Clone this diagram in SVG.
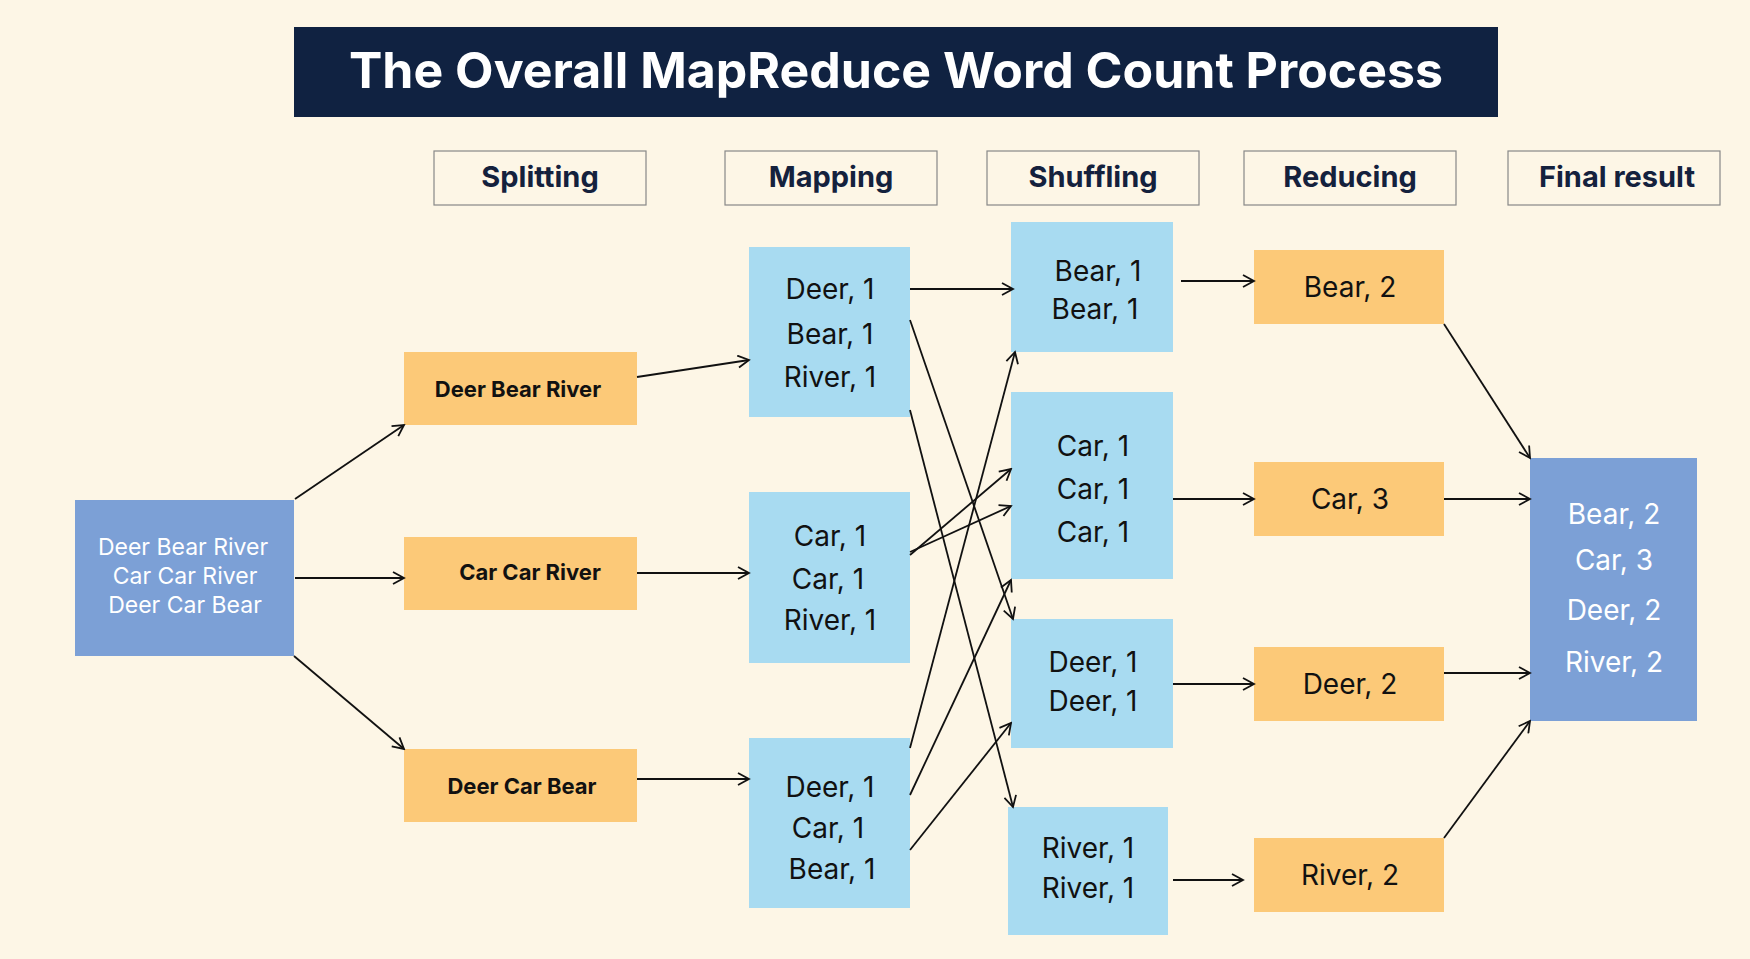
<svg xmlns="http://www.w3.org/2000/svg" width="1750" height="959" viewBox="0 0 1750 959">
<style>
text{font-family:Inter,"Open Sans",sans-serif;text-anchor:middle}
.hd{fill:none;stroke:#888;stroke-width:1.2}
.ht{font-size:29px;font-weight:700;fill:#14213d}
.in{fill:#7ca0d6}
.sp{fill:#fcc978}
.mp{fill:#a8dbf1}
.st{font-size:22px;font-weight:700;fill:#111}
.mt{font-size:28px;fill:#111}
.wt{font-size:23px;fill:#fff}
.wt2{font-size:28px;fill:#fff}
#conn line{stroke:#111;stroke-width:1.8;marker-end:url(#ah)}
</style>
<defs><marker id="ah" markerWidth="14" markerHeight="14" refX="12" refY="7" orient="auto" markerUnits="userSpaceOnUse"><path d="M1,1 L12,7 L1,13" fill="none" stroke="#111" stroke-width="1.8"/></marker></defs>
<rect width="1750" height="959" fill="#fdf6e6"/>
<g id="title"><rect x="294" y="27" width="1204" height="90" fill="#102241"/><text x="896" y="88" font-size="50" font-weight="700" fill="#fff">The Overall MapReduce Word Count Process</text></g>
<g id="h1"><rect class="hd" x="434" y="151" width="212" height="54"/><text class="ht" x="540" y="187">Splitting</text></g>
<g id="h2"><rect class="hd" x="725" y="151" width="212" height="54"/><text class="ht" x="831" y="187">Mapping</text></g>
<g id="h3"><rect class="hd" x="987" y="151" width="212" height="54"/><text class="ht" x="1093" y="187">Shuffling</text></g>
<g id="h4"><rect class="hd" x="1244" y="151" width="212" height="54"/><text class="ht" x="1350" y="187">Reducing</text></g>
<g id="h5"><rect class="hd" x="1508" y="151" width="212" height="54"/><text class="ht" x="1617" y="187">Final result</text></g>
<g id="input"><rect class="in" x="75" y="500" width="219" height="156"/><text class="wt" x="183" y="555">Deer Bear River</text><text class="wt" x="185" y="584">Car Car River</text><text class="wt" x="185" y="613">Deer Car Bear</text></g>
<g id="s1"><rect class="sp" x="404" y="352" width="233" height="73"/><text class="st" x="518" y="397">Deer Bear River</text></g>
<g id="s2"><rect class="sp" x="404" y="537" width="233" height="73"/><text class="st" x="530" y="580">Car Car River</text></g>
<g id="s3"><rect class="sp" x="404" y="749" width="233" height="73"/><text class="st" x="522" y="794">Deer Car Bear</text></g>
<g id="m1"><rect class="mp" x="749" y="247" width="161" height="170"/><text class="mt" x="830" y="299">Deer, 1</text><text class="mt" x="830" y="344">Bear, 1</text><text class="mt" x="830" y="387">River, 1</text></g>
<g id="m2"><rect class="mp" x="749" y="492" width="161" height="171"/><text class="mt" x="830" y="546">Car, 1</text><text class="mt" x="828" y="589">Car, 1</text><text class="mt" x="830" y="630">River, 1</text></g>
<g id="m3"><rect class="mp" x="749" y="738" width="161" height="170"/><text class="mt" x="830" y="797">Deer, 1</text><text class="mt" x="828" y="838">Car, 1</text><text class="mt" x="832" y="879">Bear, 1</text></g>
<g id="sh1"><rect class="mp" x="1011" y="222" width="162" height="130"/><text class="mt" x="1098" y="281">Bear, 1</text><text class="mt" x="1095" y="319">Bear, 1</text></g>
<g id="sh2"><rect class="mp" x="1011" y="392" width="162" height="187"/><text class="mt" x="1093" y="456">Car, 1</text><text class="mt" x="1093" y="499">Car, 1</text><text class="mt" x="1093" y="542">Car, 1</text></g>
<g id="sh3"><rect class="mp" x="1011" y="619" width="162" height="129"/><text class="mt" x="1093" y="672">Deer, 1</text><text class="mt" x="1093" y="711">Deer, 1</text></g>
<g id="sh4"><rect class="mp" x="1008" y="807" width="160" height="128"/><text class="mt" x="1088" y="858">River, 1</text><text class="mt" x="1088" y="898">River, 1</text></g>
<g id="r1"><rect class="sp" x="1254" y="250" width="190" height="74"/><text class="mt" x="1350" y="297">Bear, 2</text></g>
<g id="r2"><rect class="sp" x="1254" y="462" width="190" height="74"/><text class="mt" x="1350" y="509">Car, 3</text></g>
<g id="r3"><rect class="sp" x="1254" y="647" width="190" height="74"/><text class="mt" x="1350" y="694">Deer, 2</text></g>
<g id="r4"><rect class="sp" x="1254" y="838" width="190" height="74"/><text class="mt" x="1350" y="885">River, 2</text></g>
<g id="final"><rect class="in" x="1530" y="458" width="167" height="263"/><text class="wt2" x="1614" y="524">Bear, 2</text><text class="wt2" x="1614" y="570">Car, 3</text><text class="wt2" x="1614" y="620">Deer, 2</text><text class="wt2" x="1614" y="672">River, 2</text></g>
<g id="conn">
<line x1="295" y1="499" x2="404" y2="425"/>
<line x1="295" y1="578" x2="404" y2="578"/>
<line x1="294" y1="656" x2="404" y2="749"/>
<line x1="637" y1="377" x2="749" y2="360"/>
<line x1="637" y1="573" x2="749" y2="573"/>
<line x1="637" y1="779" x2="749" y2="779"/>
<line x1="910" y1="289" x2="1013" y2="289"/>
<line x1="910" y1="320" x2="1013" y2="619"/>
<line x1="910" y1="410" x2="1013" y2="807"/>
<line x1="910" y1="552" x2="1011" y2="506"/>
<line x1="910" y1="555" x2="1011" y2="469"/>
<line x1="910" y1="748" x2="1015" y2="352"/>
<line x1="910" y1="795" x2="1011" y2="580"/>
<line x1="910" y1="850" x2="1011" y2="723"/>
<line x1="1181" y1="281" x2="1254" y2="281"/>
<line x1="1173" y1="499" x2="1254" y2="499"/>
<line x1="1173" y1="684" x2="1254" y2="684"/>
<line x1="1173" y1="880" x2="1243" y2="880"/>
<line x1="1444" y1="324" x2="1530" y2="458"/>
<line x1="1444" y1="499" x2="1530" y2="499"/>
<line x1="1444" y1="673" x2="1530" y2="673"/>
<line x1="1444" y1="838" x2="1530" y2="721"/>
</g>
</svg>
